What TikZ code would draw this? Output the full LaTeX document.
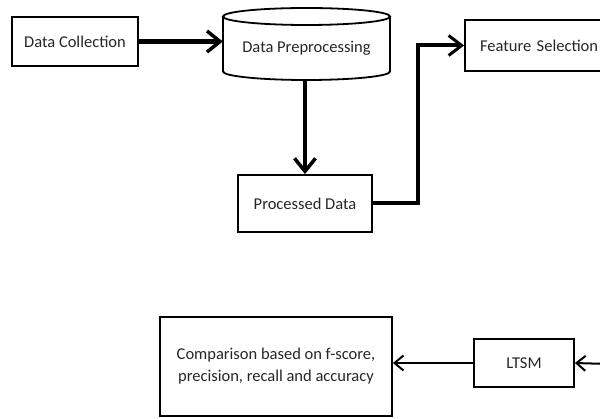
\documentclass[tikz,border=0pt]{standalone}
\usepackage{fontspec}
\setmainfont{Carlito}
\usetikzlibrary{arrows.meta}
\begin{document}
\begin{tikzpicture}[x=1pt,y=-1pt,
  txt/.style={font=\fontsize{16.5}{22}\selectfont, text=black!85, align=center},
  box/.style={txt, draw, line width=1.8pt, inner sep=0pt},
  bigflow/.style={line width=4.5pt, -{Straight Barb[length=13pt,width=21pt,line width=3.5pt]}},
  thinflow/.style={line width=2pt, -{Straight Barb[length=9pt,width=15pt,line width=2pt]}}]
\useasboundingbox (0,0) rectangle (600,419);
\clip (0,0) rectangle (600,419);

% boxes
\node[box, minimum width=126pt, minimum height=49pt] (collect) at (75,41.5) {Data Collection};
\node[txt, minimum width=167pt, minimum height=72pt, inner sep=0pt] (prep) at (306.5,44) {};
\draw[line width=1.8pt] (306.5,16.5) ellipse [x radius=83.5pt, y radius=8.5pt];
\draw[line width=1.8pt] (223,16.5) -- (223,71.5)
  arc [start angle=180, end angle=360, x radius=83.5pt, y radius=8.5pt] -- (390,16.5);
\node[txt] at (306.5,48) {Data Preprocessing};
\node[box, minimum width=134pt, minimum height=57pt] (proc) at (305,203.5) {Processed Data};
\node[box, minimum width=160pt, minimum height=51pt, text width=130pt, align=left] (feat) at (545,45.5) {Feature Selection};
\node[box, minimum width=100pt, minimum height=48pt] (ltsm) at (524,363) {LTSM};
\node[box, minimum width=232pt, minimum height=99pt] (comp) at (276,366.5)
  {Comparison based on f-score,\\precision, recall and accuracy};

% connectors
\coordinate (bend) at (418,203.5);
\coordinate (fsdown) at (608,364);
\draw[bigflow] (collect.east) -- (prep.west |- collect.east);
\draw[bigflow] (prep.south -| proc.north) -- (proc.north);
\draw[line width=4pt, -{Straight Barb[length=13pt,width=20pt,line width=3pt]}]
  (proc.east) -- (bend) |- (feat.west);
\draw[thinflow] (feat.south -| fsdown) -- (fsdown) -- (ltsm.east);
\draw[thinflow] (ltsm.west) -- (comp.east |- ltsm.west);
\end{tikzpicture}
\end{document}
